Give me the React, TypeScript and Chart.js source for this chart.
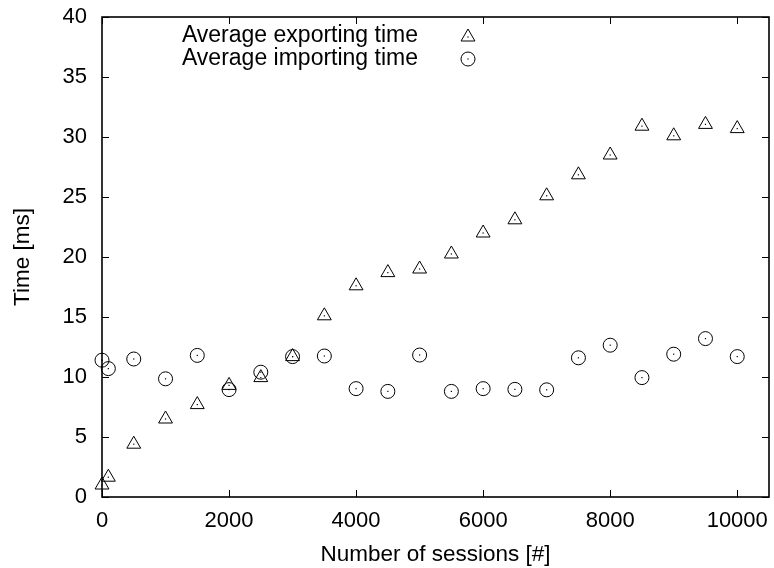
import React, { useEffect, useRef } from 'react';
import { Chart, registerables, ScatterController } from 'chart.js';

Chart.register(...registerables);

// Scatter controller that does not reserve extra edge padding for point radius
class GnuScatterController extends (ScatterController as any) {
  getMaxOverflow() {
    return 0;
  }
}
(GnuScatterController as any).id = 'gnuScatter';
(GnuScatterController as any).defaults = (ScatterController as any).defaults;
(GnuScatterController as any).overrides = (ScatterController as any).overrides;
Chart.register(GnuScatterController as any);

const SESSIONS = [0, 100, 500, 1000, 1500, 2000, 2500, 3000, 3500, 4000, 4500, 5000, 5500, 6000, 6500, 7000, 7500, 8000, 8500, 9000, 9500, 10000];
const EXPORT_MS = [1.0, 1.65, 4.4, 6.5, 7.7, 9.3, 9.95, 11.7, 15.1, 17.6, 18.7, 19.0, 20.25, 22.0, 23.1, 25.1, 26.85, 28.5, 30.9, 30.1, 31.05, 30.7];
const IMPORT_MS = [11.4, 10.7, 11.5, 9.85, 11.8, 8.95, 10.4, 11.7, 11.75, 9.03, 8.8, 11.83, 8.8, 9.03, 8.97, 8.93, 11.6, 12.65, 9.95, 11.9, 13.2, 11.7];
const X_TICKS = [0, 2000, 4000, 6000, 8000, 10000];
const Y_TICKS = [0, 5, 10, 15, 20, 25, 30, 35, 40];
const LEGEND_LABELS = ['Average exporting time', 'Average importing time'];
const X_TITLE = 'Number of sessions [#]';
const Y_TITLE = 'Time [ms]';

const FONT = '"Liberation Sans", Arial, Helvetica, sans-serif';
const FONT_SIZE = 22;
const TITLE_SIZE = 22.5;
const LEGEND_SIZE = 23;

function drawTriangle(ctx: CanvasRenderingContext2D, x: number, y: number, r: number) {
  ctx.beginPath();
  ctx.moveTo(x, y - r);
  ctx.lineTo(x + r * Math.cos(Math.PI / 6), y + r / 2);
  ctx.lineTo(x - r * Math.cos(Math.PI / 6), y + r / 2);
  ctx.closePath();
  ctx.stroke();
}

function drawCircle(ctx: CanvasRenderingContext2D, x: number, y: number, r: number) {
  ctx.beginPath();
  ctx.arc(x, y, r, 0, Math.PI * 2);
  ctx.stroke();
}

const framePlugin = {
  id: 'gnuFrame',
  beforeDatasetsDraw(chart: any) {
    const { ctx, chartArea, scales } = chart;
    const { left, right, top, bottom } = chartArea;
    const x = scales.x;
    const y = scales.y;
    const TL = 7;
    ctx.save();
    ctx.strokeStyle = '#000';
    ctx.lineWidth = 1;
    ctx.beginPath();
    X_TICKS.forEach((v) => {
      const px = Math.round(x.getPixelForValue(v)) + 0.5;
      ctx.moveTo(px, bottom);
      ctx.lineTo(px, bottom - TL);
      ctx.moveTo(px, top);
      ctx.lineTo(px, top + TL);
    });
    Y_TICKS.forEach((v) => {
      const py = Math.round(y.getPixelForValue(v)) + 0.5;
      ctx.moveTo(left, py);
      ctx.lineTo(left + TL, py);
      ctx.moveTo(right, py);
      ctx.lineTo(right - TL, py);
    });
    ctx.stroke();
    ctx.lineWidth = 1.6;
    ctx.strokeRect(left, top, right - left, bottom - top);
    // x tick labels
    ctx.fillStyle = '#000';
    ctx.font = `${FONT_SIZE}px ${FONT}`;
    ctx.textAlign = 'center';
    ctx.textBaseline = 'middle';
    X_TICKS.forEach((v) => {
      ctx.fillText(String(v), x.getPixelForValue(v), bottom + 24);
    });
    ctx.restore();
  },
  afterDatasetsDraw(chart: any) {
    const { ctx } = chart;
    ctx.save();
    ctx.fillStyle = '#000';
    chart.data.datasets.forEach((_: any, i: number) => {
      const meta = chart.getDatasetMeta(i);
      meta.data.forEach((el: any) => {
        ctx.fillRect(el.x - 0.6, el.y - 0.6, 1.2, 1.2);
      });
    });
    // legend (gnuplot style: right-aligned text, marker on the right)
    ctx.font = `${LEGEND_SIZE}px ${FONT}`;
    ctx.textAlign = 'right';
    ctx.textBaseline = 'middle';
    ctx.strokeStyle = '#000';
    ctx.lineWidth = 1;
    const textRight = 418;
    const markerX = 468;
    const rows = [36, 59];
    LEGEND_LABELS.forEach((label, i) => {
      ctx.fillText(label, textRight, rows[i]);
      if (i === 0) drawTriangle(ctx, markerX, rows[i] + 1, 8);
      else drawCircle(ctx, markerX, rows[i], 7);
      ctx.fillRect(markerX - 0.6, rows[i] - 0.6 + (i === 0 ? 1 : 0), 1.2, 1.2);
    });
    ctx.restore();
  },
};

export default function App() {
  const canvasRef = useRef<HTMLCanvasElement | null>(null);

  useEffect(() => {
    if (!canvasRef.current) return;
    const chart = new Chart(canvasRef.current, {
      type: 'gnuScatter' as any,
      data: {
        datasets: [
          {
            label: LEGEND_LABELS[0],
            data: SESSIONS.map((s, i) => ({ x: s, y: EXPORT_MS[i] })),
            pointStyle: 'triangle',
            pointRadius: 8,
            pointHoverRadius: 8,
            borderWidth: 1,
            borderColor: '#000',
            backgroundColor: 'rgba(0,0,0,0)',
            showLine: false,
            clip: false,
          } as any,
          {
            label: LEGEND_LABELS[1],
            data: SESSIONS.map((s, i) => ({ x: s, y: IMPORT_MS[i] })),
            pointStyle: 'circle',
            pointRadius: 7,
            pointHoverRadius: 7,
            borderWidth: 1,
            borderColor: '#000',
            backgroundColor: 'rgba(0,0,0,0)',
            showLine: false,
            clip: false,
          } as any,
        ],
      },
      options: {
        animation: false,
        responsive: true,
        maintainAspectRatio: false,
        layout: { padding: { top: 17, right: 5, left: 0, bottom: 0 } },
        plugins: {
          legend: { display: false },
          tooltip: { enabled: false },
        },
        scales: {
          x: {
            type: 'linear',
            position: 'bottom',
            min: 0,
            max: 10500,
            afterBuildTicks: (s: any) => {
              s.ticks = X_TICKS.map((v) => ({ value: v }));
            },
            afterFit: (s: any) => {
              s.height = 71;
              s.paddingLeft = 0;
              s.paddingRight = 0;
              s.paddingTop = 0;
              s.paddingBottom = 0;
            },
            ticks: { display: false },
            grid: { display: false, drawTicks: false },
            border: { display: false },
            title: {
              display: true,
              text: X_TITLE,
              color: '#000',
              font: { family: FONT, size: TITLE_SIZE },
              padding: { top: 2, bottom: 0 },
            },
          },
          y: {
            type: 'linear',
            position: 'left',
            min: 0,
            max: 40,
            afterBuildTicks: (s: any) => {
              s.ticks = Y_TICKS.map((v) => ({ value: v }));
            },
            afterFit: (s: any) => {
              s.width = 102;
              s.paddingLeft = 0;
              s.paddingRight = 0;
              s.paddingTop = 0;
              s.paddingBottom = 0;
            },
            ticks: {
              color: '#000',
              font: { family: FONT, size: FONT_SIZE },
              padding: 15,
              autoSkip: false,
              callback: (v: any) => String(v),
            },
            grid: { display: false, drawTicks: false },
            border: { display: false },
            title: {
              display: true,
              text: Y_TITLE,
              color: '#000',
              font: { family: FONT, size: TITLE_SIZE },
              padding: { top: 9, bottom: 0 },
            },
          },
        },
      },
      plugins: [framePlugin],
    });
    return () => chart.destroy();
  }, []);

  return (
    <div style={{ position: 'fixed', left: 0, top: 0, width: 774, height: 568, background: '#fff' }}>
      <canvas ref={canvasRef} />
    </div>
  );
}
